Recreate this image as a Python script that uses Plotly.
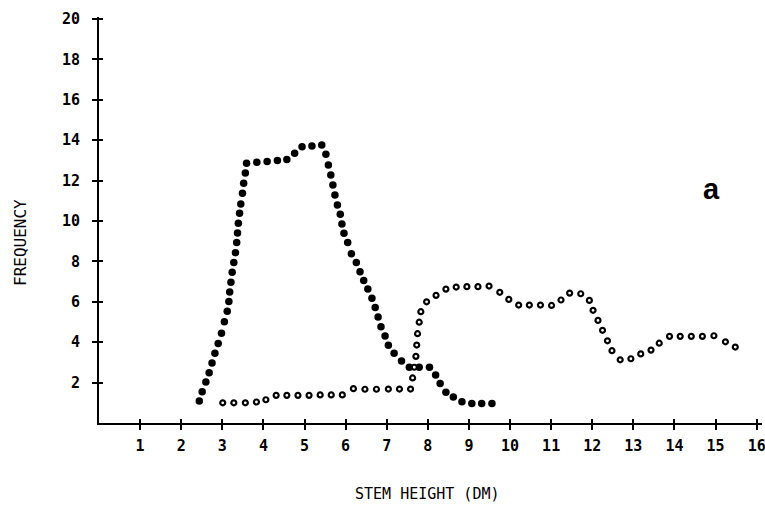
import plotly.graph_objects as go

# Filled-dot series (stem height in dm, frequency)
filled_x = [2.44, 2.51, 2.60, 2.68, 2.75, 2.82, 2.90, 2.98, 3.05, 3.12, 3.16, 3.18, 3.21, 3.24,
            3.28, 3.32, 3.35, 3.37, 3.39, 3.42, 3.45, 3.49, 3.52, 3.56, 3.59, 3.84, 4.09, 4.34,
            4.57, 4.76, 4.94, 5.18, 5.42, 5.52, 5.58, 5.64, 5.69, 5.74, 5.80, 5.87, 5.91, 5.96,
            6.05, 6.14, 6.26, 6.35, 6.44, 6.54, 6.64, 6.72, 6.79, 6.86, 6.96, 7.04, 7.18, 7.36,
            7.55, 7.79, 8.04, 8.19, 8.30, 8.44, 8.62, 8.83, 9.07, 9.31, 9.56]
filled_y = [1.09, 1.55, 2.03, 2.49, 2.97, 3.45, 3.93, 4.44, 5.01, 5.53, 6.02, 6.49, 6.97, 7.46,
            7.94, 8.43, 8.93, 9.41, 9.89, 10.38, 10.84, 11.37, 11.87, 12.38, 12.86, 12.91, 12.94, 13.00,
            13.05, 13.35, 13.68, 13.71, 13.76, 13.30, 12.77, 12.28, 11.78, 11.29, 10.79, 10.33, 9.85, 9.39,
            8.93, 8.38, 7.94, 7.49, 7.06, 6.63, 6.17, 5.72, 5.25, 4.77, 4.31, 3.85, 3.45, 3.07,
            2.76, 2.76, 2.76, 2.38, 1.95, 1.52, 1.29, 1.05, 0.96, 0.96, 0.96]

# Open-circle series
open_x = [3.01, 3.28, 3.56, 3.83, 4.06, 4.31, 4.57, 4.84, 5.11, 5.38, 5.65, 5.92, 6.19, 6.47,
          6.75, 7.04, 7.31, 7.58, 7.63, 7.67, 7.71, 7.73, 7.75, 7.79, 7.83, 7.97, 8.20, 8.44,
          8.69, 8.95, 9.22, 9.49, 9.75, 9.97, 10.21, 10.47, 10.74, 11.01, 11.24, 11.45, 11.72, 11.93,
          12.02, 12.14, 12.25, 12.37, 12.48, 12.68, 12.94, 13.18, 13.43, 13.63, 13.88, 14.14, 14.41, 14.68,
          14.96, 15.24, 15.48]
open_y = [1.00, 1.00, 1.00, 1.04, 1.15, 1.37, 1.37, 1.37, 1.37, 1.39, 1.39, 1.39, 1.70, 1.67,
          1.67, 1.68, 1.68, 1.68, 2.23, 2.76, 3.30, 3.86, 4.42, 4.99, 5.51, 6.00, 6.32, 6.63,
          6.73, 6.75, 6.75, 6.78, 6.47, 6.12, 5.84, 5.84, 5.84, 5.82, 6.09, 6.43, 6.40, 6.07,
          5.58, 5.08, 4.59, 4.07, 3.58, 3.13, 3.18, 3.42, 3.61, 3.95, 4.29, 4.29, 4.29, 4.29,
          4.32, 4.02, 3.76]

x_ticks = list(range(1, 17))
y_ticks = list(range(2, 21, 2))

FONT = "DejaVu Sans Mono"

fig = go.Figure()
fig.add_trace(go.Scatter(x=filled_x, y=filled_y, mode="markers",
                         marker=dict(size=7.5, color="black", line=dict(width=0)),
                         showlegend=False, hoverinfo="skip"))
fig.add_trace(go.Scatter(x=open_x, y=open_y, mode="markers",
                         marker=dict(size=5, color="white", line=dict(width=2.2, color="black")),
                         showlegend=False, hoverinfo="skip"))

XR = [0, 16.13]
YR = [0, 20.1]

fig.update_layout(
    width=765, height=509,
    margin=dict(l=99, r=3, t=17, b=86, autoexpand=False),
    paper_bgcolor="white", plot_bgcolor="white",
    font=dict(family=FONT, color="black", size=15),
    xaxis=dict(range=XR, tickvals=x_ticks, ticktext=[str(v) for v in x_ticks],
               automargin=False,
               showgrid=False, zeroline=False, showline=True, linecolor="black", linewidth=2,
               ticks="outside", ticklen=5, tickwidth=1.5, tickcolor="black",
               ticklabelstandoff=3, ticklabeloverflow="allow",
               tickfont=dict(family=FONT, size=15, color="black", weight="bold")),
    yaxis=dict(range=YR, tickvals=y_ticks, ticktext=[str(v) for v in y_ticks],
               automargin=False,
               showgrid=False, zeroline=False, showline=True, linecolor="black", linewidth=2,
               ticks="outside", ticklen=5, tickwidth=1.5, tickcolor="black",
               ticklabelstandoff=9, ticklabeloverflow="allow",
               tickfont=dict(family=FONT, size=15, color="black", weight="bold")),
    xaxis2=dict(range=XR, overlaying="x", anchor="y", tickvals=x_ticks, showticklabels=False,
                automargin=False,
                showgrid=False, zeroline=False, showline=False,
                ticks="inside", ticklen=4, tickwidth=1.5, tickcolor="black"),
    yaxis2=dict(range=YR, overlaying="y", anchor="x", side="left", tickvals=y_ticks,
                automargin=False,
                showticklabels=False, showgrid=False, zeroline=False, showline=False,
                ticks="inside", ticklen=4, tickwidth=1.5, tickcolor="black"),
)

fig.add_trace(go.Scatter(x=[None], y=[None], xaxis="x2", yaxis="y2",
                         showlegend=False, hoverinfo="skip"))

fig.add_annotation(text="STEM HEIGHT (DM)", xref="paper", yref="paper",
                   x=(427 - 99) / 663, y=(423 - 494) / 406, showarrow=False,
                   font=dict(family=FONT, size=15, color="black"),
                   xanchor="center", yanchor="middle")
fig.add_annotation(text="FREQUENCY", xref="paper", yref="paper",
                   x=(20 - 99) / 663, y=(423 - 243) / 406, showarrow=False, textangle=-90,
                   font=dict(family=FONT, size=16, color="black"),
                   xanchor="center", yanchor="middle")
fig.add_annotation(text="<b>a</b>", x=14.9, y=11.6, showarrow=False,
                   font=dict(family="Liberation Sans", size=29, color="black"),
                   xanchor="center", yanchor="middle")

fig.write_html("out.html")
